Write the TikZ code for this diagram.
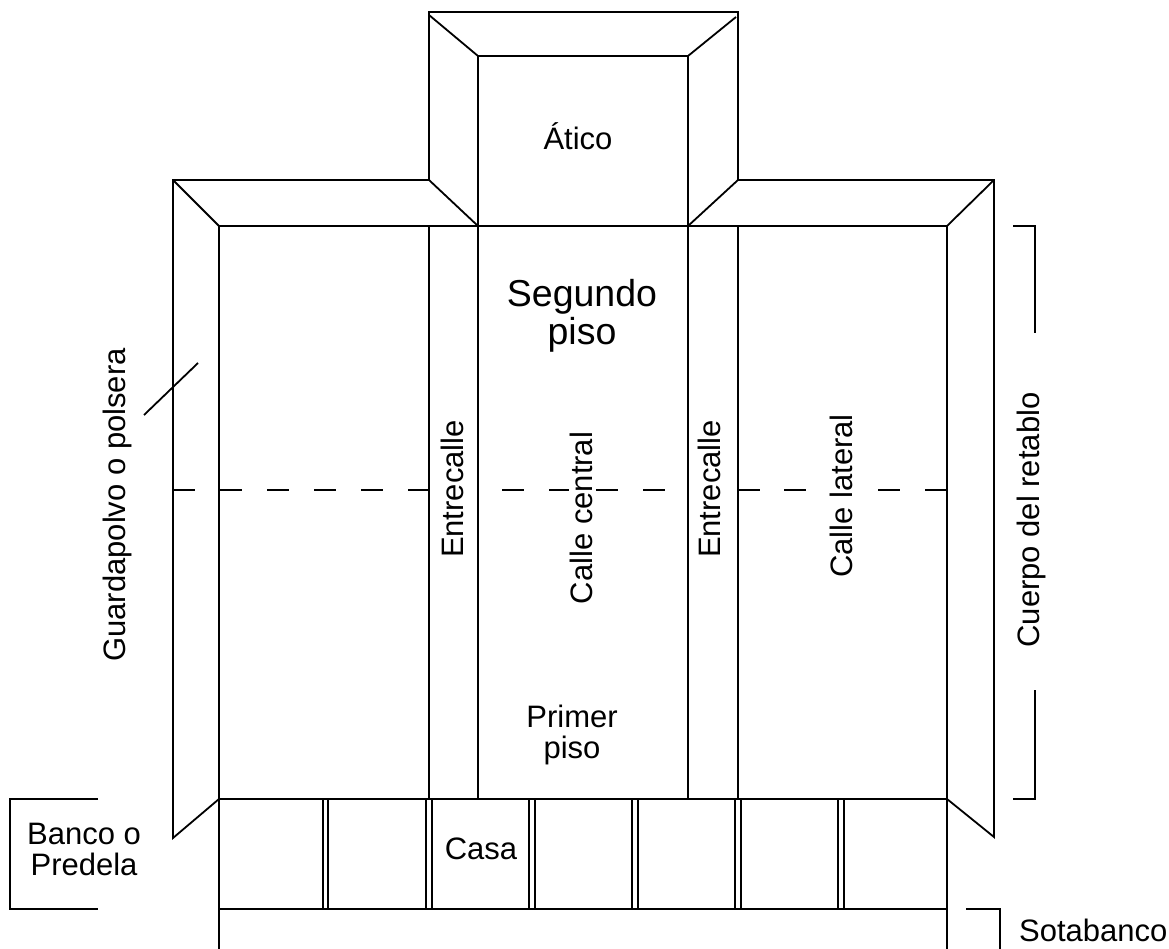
\documentclass[tikz,border=0pt]{standalone}
\usepackage{fontspec}
\setmainfont{Liberation Sans}
\tikzset{
  ln/.style={draw=black,line width=1.8pt,line join=miter},
  lab/.style={inner sep=0pt,align=center,text=black,font=\fontsize{31}{31}\selectfont},
  big/.style={lab,font=\fontsize{37.5}{38}\selectfont}
}
\begin{document}
\begin{tikzpicture}[x=1pt,y=-1pt]
\useasboundingbox (0,0) rectangle (1169,949);
\fill[white] (0,0) rectangle (1169,949);
% attic
\draw[ln] (429,180) -- (429,12) -- (738,12) -- (738,180);
\draw[ln] (429,15) -- (478,56) -- (688,56) -- (736,17);
\draw[ln] (478,56) -- (478,226);
\draw[ln] (688,56) -- (688,226);
% wings
\draw[ln] (429,180) -- (173,180) -- (173,838) -- (219,799);
\draw[ln] (173,180) -- (219,226);
\draw[ln] (429,180) -- (478,226);
\draw[ln] (738,180) -- (994,180) -- (994,837) -- (947,799);
\draw[ln] (994,180) -- (947,226);
\draw[ln] (738,180) -- (688,226);
% main
\draw[ln] (219,949) -- (219,226) -- (947,226) -- (947,949);
\foreach \x in {429,478,688,738} \draw[ln] (\x,226) -- (\x,799);
\draw[ln] (219,799) -- (947,799);
\draw[ln] (219,909) -- (947,909);
\foreach \x in {323,328,426,432,529,535,632,638,735,741,838,844} \draw[ln] (\x,799) -- (\x,909);
% dashed
\foreach \x in {173,220,267,314,361,408,502,596,643,738,784,878,925}
  \draw[ln] (\x,490) -- ++(22,0);
\draw[ln] (549,490) -- (569,490);
% brackets
\draw[ln] (98,799) -- (10,799) -- (10,909) -- (98,909);
\draw[ln] (1013,226) -- (1035,226) -- (1035,333);
\draw[ln] (1035,690) -- (1035,799) -- (1013,799);
\draw[ln] (966,909) -- (1000,909) -- (1000,949);
\draw[ln] (198,363) -- (144,415);
% labels
\node[lab] (atico) at (578,136) {Ático};
\node[big] (seg) at (582,316) {Segundo\\piso};
\node[lab] (prim) at (572,735) {Primer\\piso};
\node[lab] (casa) at (481,849) {Casa};
\node[lab] (banco) at (84,849) {Banco o\\Predela};
\node[lab,anchor=west] (sota) at (1019,930) {Sotabanco};
\node[lab,rotate=90] (e1) at (452,489) {Entrecalle};
\node[lab,rotate=90] (e2) at (709,489) {Entrecalle};
\node[lab,rotate=90] (cc) at (581,518) {Calle central};
\node[lab,rotate=90] (cl) at (841,496) {Calle lateral};
\node[lab,rotate=90] (cu) at (1031,520) {Cuerpo del retablo};
\node[lab,rotate=90] (gu) at (117,505) {Guardapolvo o polsera};
\end{tikzpicture}
\end{document}
